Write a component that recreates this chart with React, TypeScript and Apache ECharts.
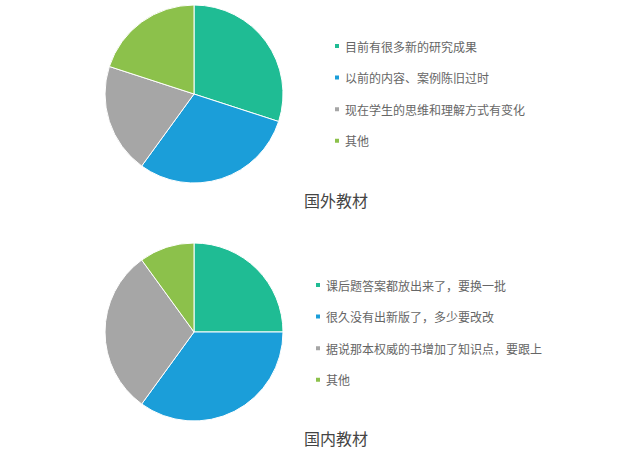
import { useEffect, useRef } from "react";
import * as echarts from "echarts";

const foreignNames = ["目前有很多新的研究成果", "以前的内容、案例陈旧过时", "现在学生的思维和理解方式有变化", "其他"];
const foreignValues = [30, 30, 20, 20];

const domesticNames = ["课后题答案都放出来了，要换一批", "很久没有出新版了，多少要改改", "据说那本权威的书增加了知识点，要跟上", "其他"];
const domesticValues = [25, 35, 30, 10];

const titles = ["国外教材", "国内教材"];
const colors = ["#1fbc94", "#1b9ed9", "#a6a6a6", "#8cc14b"];

const FONT = "'Noto Sans CJK SC', 'Noto Sans', sans-serif";

export default function App() {
  const ref = useRef<HTMLDivElement | null>(null);

  useEffect(() => {
    document.body.style.margin = "0";
    if (!ref.current) return;
    const chart = echarts.init(ref.current, undefined, { renderer: "svg" });

    const legendStyle = {
      orient: "vertical" as const,
      icon: "rect",
      itemWidth: 6,
      itemHeight: 6,
      itemGap: 19.6,
      textStyle: { color: "#666", fontSize: 12, fontFamily: FONT },
    };

    const titleStyle = { fontSize: 16, fontWeight: "normal", color: "#444", fontFamily: FONT };

    const pie = (name: string, names: string[], values: number[], cy: number) => ({
      type: "pie",
      name,
      radius: 89,
      center: [194, cy],
      startAngle: 90,
      label: { show: false },
      labelLine: { show: false },
      itemStyle: { borderColor: "#fff", borderWidth: 1 },
      data: names.map((n, i) => ({ name: n, value: values[i], itemStyle: { color: colors[i] } })),
    });

    chart.setOption({
      animation: false,
      color: colors,
      title: [
        { text: titles[0], left: 299, top: 187, textStyle: titleStyle },
        { text: titles[1], left: 299, top: 425, textStyle: titleStyle },
      ],
      legend: [
        { ...legendStyle, left: 328, top: 35, data: foreignNames },
        { ...legendStyle, left: 309, top: 274, data: domesticNames },
      ],
      series: [
        pie(titles[0], foreignNames, foreignValues, 94),
        pie(titles[1], domesticNames, domesticValues, 332),
      ],
    });

    return () => {
      chart.dispose();
    };
  }, []);

  return <div ref={ref} style={{ width: 640, height: 459 }} />;
}
